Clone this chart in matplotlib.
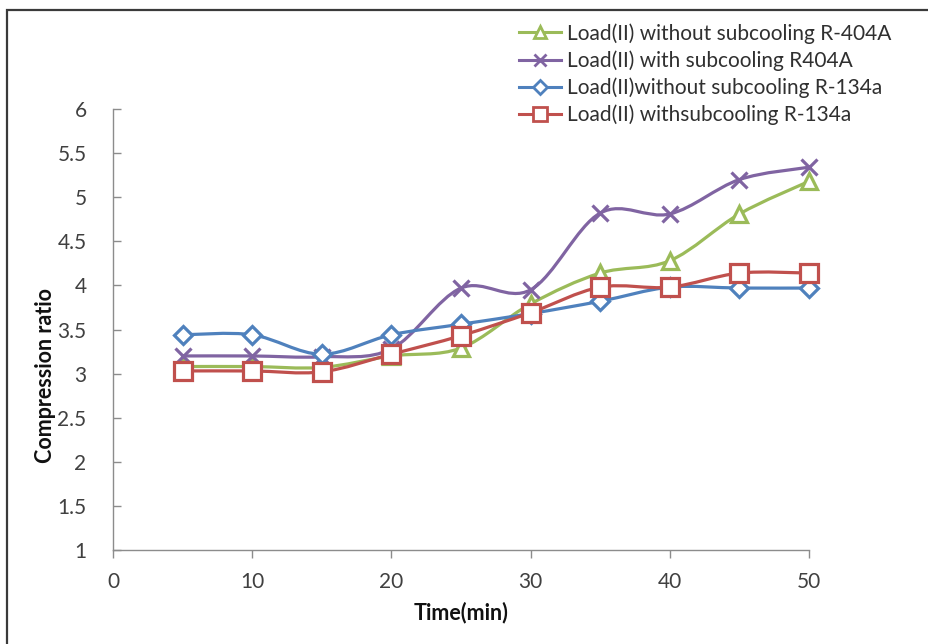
import matplotlib
matplotlib.use("Agg")
import matplotlib.pyplot as plt
from matplotlib.path import Path
from matplotlib.patches import PathPatch, Rectangle
from matplotlib.lines import Line2D
import numpy as np

plt.rcParams['font.family'] = ['Lato', 'DejaVu Sans']

time_min = [5, 10, 15, 20, 25, 30, 35, 40, 45, 50]
r404a_without = [3.08, 3.08, 3.07, 3.20, 3.29, 3.79, 4.14, 4.28, 4.81, 5.18]
r404a_with = [3.20, 3.20, 3.19, 3.28, 3.97, 3.95, 4.82, 4.81, 5.20, 5.34]
r134a_without = [3.44, 3.44, 3.22, 3.44, 3.56, 3.68, 3.82, 3.98, 3.97, 3.97]
r134a_with = [3.03, 3.03, 3.02, 3.22, 3.43, 3.69, 3.98, 3.98, 4.14, 4.14]

labels = ["Load(II) without subcooling R-404A",
          "Load(II) with subcooling R404A",
          "Load(II)without subcooling R-134a",
          "Load(II) withsubcooling R-134a"]
colors = ["#9BBB59", "#8064A2", "#4F81BD", "#C0504D"]
markers = ["^", "x", "D", "s"]
msizes = [11, 11, 9.5, 12.5]

x_ticks = [0, 10, 20, 30, 40, 50]
y_ticks = [1, 1.5, 2, 2.5, 3, 3.5, 4, 4.5, 5, 5.5, 6]

W, H = 929, 644
fig = plt.figure(figsize=(W / 100, H / 100), dpi=100)
fig.patch.set_facecolor("white")

# outer frame (cropped screenshot of a boxed chart)
fig.patches.append(Rectangle((7 / W, -0.05), 1.2, (H - 10) / H + 0.05,
                             transform=fig.transFigure, fill=False,
                             edgecolor="#3a3a3a", lw=1.6, zorder=0))

ax = fig.add_axes([113 / W, 1 - 550 / H, (809 - 113) / W, (550 - 109) / H])
ax.set_xlim(0, 50)
ax.set_ylim(1, 6)
ax.set_facecolor("none")
for s in ["top", "right"]:
    ax.spines[s].set_visible(False)
for s in ["left", "bottom"]:
    ax.spines[s].set_color("#8c8c8c")
    ax.spines[s].set_linewidth(1.0)

ax.set_xticks(x_ticks)
ax.set_yticks(y_ticks)
ax.set_yticklabels([f"{v:g}" for v in y_ticks])
ax.tick_params(axis="y", direction="in", length=6, width=1, color="#8c8c8c",
               labelsize=15, labelcolor="#404040", pad=19)
ax.tick_params(axis="x", direction="out", length=6, width=1, color="#8c8c8c",
               labelsize=15, labelcolor="#404040", pad=10)

ax.set_xlabel("Time(min)", fontsize=15.5, fontweight="bold", color="#111111")
ax.xaxis.set_label_coords(0.5, -0.118)
ax.set_ylabel("Compression ratio", fontsize=15.5, fontweight="bold", color="#111111")
ax.yaxis.set_label_coords(-0.082, 0.395)


def smooth_path(xs, ys):
    pts = np.column_stack([xs, ys]).astype(float)
    n = len(pts)
    verts = [pts[0]]
    codes = [Path.MOVETO]
    for i in range(n - 1):
        p0 = pts[i - 1] if i > 0 else pts[i]
        p1 = pts[i]
        p2 = pts[i + 1]
        p3 = pts[i + 2] if i + 2 < n else pts[i + 1]
        c1 = p1 + (p2 - p0) / 6.0
        c2 = p2 - (p3 - p1) / 6.0
        verts += [c1, c2, p2]
        codes += [Path.CURVE4] * 3
    return Path(verts, codes)


series = [r404a_without, r404a_with, r134a_without, r134a_with]
handles = []
for k, (ys, c, m, ms, lab) in enumerate(zip(series, colors, markers, msizes, labels)):
    patch = PathPatch(smooth_path(time_min, ys), fill=False, edgecolor=c,
                      lw=2.3, transform=ax.transData, zorder=2 + 2 * k,
                      capstyle="round", joinstyle="round")
    ax.add_patch(patch)
    ax.plot(time_min, ys, linestyle="none", marker=m, markersize=ms,
            markerfacecolor="white", markeredgecolor=c, markeredgewidth=2.3,
            zorder=3 + 2 * k, clip_on=False)
    handles.append(Line2D([0], [0], color=c, lw=2.2, marker=m, markersize=ms * 0.75,
                          markerfacecolor="white", markeredgecolor=c,
                          markeredgewidth=2.0))

leg = fig.legend(handles, labels, loc="upper left",
                 bbox_to_anchor=(519 / W, 1 - 23 / H),
                 frameon=False, fontsize=15, handlelength=2.0,
                 handletextpad=0.3, labelspacing=0.32, borderaxespad=0,
                 borderpad=0)
for t in leg.get_texts():
    t.set_color("#303030")

fig.savefig("out.png", dpi=100, facecolor="white")
